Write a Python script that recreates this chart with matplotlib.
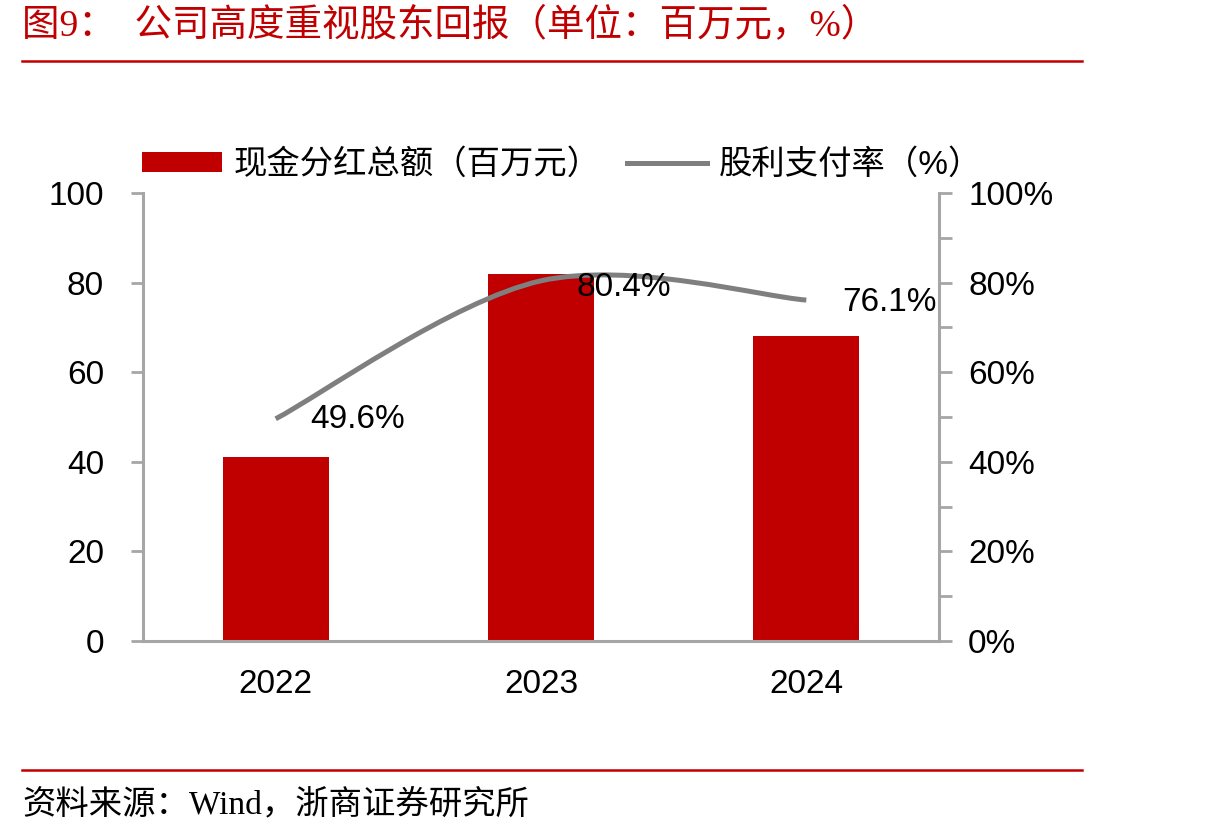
import numpy as np
import matplotlib.pyplot as plt
from matplotlib.path import Path
from matplotlib.patches import PathPatch
from matplotlib.lines import Line2D
from matplotlib.patches import Patch

plt.rcParams['font.family'] = ['Liberation Sans', 'Noto Sans CJK SC', 'DejaVu Sans']

years = ["2022", "2023", "2024"]
dividend = [41, 82, 68]
payout = [49.6, 80.4, 76.1]
payout_labels = ["49.6%", "80.4%", "76.1%"]

red = "#C00000"
grey = "#A6A6A6"
line_grey = "#7F7F7F"

fig = plt.figure(figsize=(12.1, 8.38), dpi=100)
ax = fig.add_axes([143/1210, 1-641/838, 796/1210, 448/838])
x = np.arange(len(years))
ax.bar(x, dividend, width=0.40, color=red, zorder=2)
ax.set_xlim(-0.5, 2.5)
ax.set_ylim(0, 100)
ax.set_yticks(range(0, 101, 20))
ax.set_xticks(x)
ax.set_xticklabels(years)
for s in ["top", "right"]:
    ax.spines[s].set_visible(False)
for s in ["left", "bottom"]:
    ax.spines[s].set_color(grey)
    ax.spines[s].set_linewidth(2.2)
ax.tick_params(axis="y", colors=grey, labelcolor="black", labelsize=24,
               length=9, width=2, pad=19)
ax.tick_params(axis="x", length=0, labelsize=24, pad=20)

ax2 = ax.twinx()
ax2.set_ylim(0, 100)
ax2.set_yticks(range(0, 101, 20))
ax2.set_yticks(range(10, 100, 20), minor=True)
ax2.set_yticklabels([f"{v}%" for v in range(0, 101, 20)])
for s in ["top", "left", "bottom"]:
    ax2.spines[s].set_visible(False)
ax2.spines["right"].set_color(grey)
ax2.spines["right"].set_linewidth(2.2)
ax2.tick_params(axis="y", which="both", colors=grey, labelcolor="black",
                labelsize=24, length=9, width=2, pad=12)

# smoothed line (Catmull-Rom as cubic Bezier segments, like Excel smoothing)
pts = np.column_stack([x, payout]).astype(float)
verts = [tuple(pts[0])]
codes = [Path.MOVETO]
n = len(pts)
for i in range(n - 1):
    p0 = pts[max(i - 1, 0)]
    p1 = pts[i]
    p2 = pts[i + 1]
    p3 = pts[min(i + 2, n - 1)]
    c1 = p1 + (p2 - p0) / 6
    c2 = p2 - (p3 - p1) / 6
    verts += [tuple(c1), tuple(c2), tuple(p2)]
    codes += [Path.CURVE4] * 3
ax2.add_patch(PathPatch(Path(verts, codes), facecolor="none",
                        edgecolor=line_grey, lw=3.6, capstyle="butt", zorder=3))

offsets = [(0.13, -0.2), (0.135, -1.6), (0.135, -0.6)]
for xi, v, lab, (dx, dy) in zip(x, payout, payout_labels, offsets):
    ax2.text(xi + dx, v + dy, lab, fontsize=24, ha="left", va="center")

handles = [Patch(facecolor=red, edgecolor="none"),
           Line2D([], [], color=line_grey, lw=3.6)]
fig.legend(handles, ["现金分红总额（百万元）", "股利支付率（%）"],
           loc="center", bbox_to_anchor=(562/1210, 1-165/838), ncol=2,
           frameon=False, fontsize=24, handlelength=2.4, handleheight=0.55,
           columnspacing=0.8, handletextpad=0.35)

fig.text(22/1210, 1-25/838, "图9：  公司高度重视股东回报（单位：百万元，%）",
         color=red, fontsize=27, ha="left", va="center",
         family=["Liberation Serif", "Noto Sans CJK SC"])
fig.add_artist(Line2D([22/1210, 1082/1210], [1-61/838, 1-61/838],
                      color=red, lw=1.8))
fig.add_artist(Line2D([22/1210, 1082/1210], [1-770/838, 1-770/838],
                      color=red, lw=1.8))
fig.text(22/1210, 1-805/838, "资料来源：Wind，浙商证券研究所",
         color="black", fontsize=24, ha="left", va="center",
         family=["Liberation Serif", "Noto Sans CJK SC"])

fig.savefig("out.png", dpi=100)
